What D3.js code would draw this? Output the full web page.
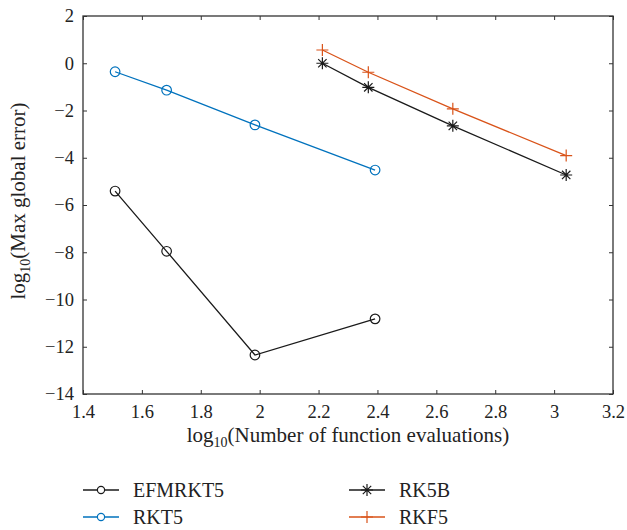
<!DOCTYPE html>
<html><head><meta charset="utf-8">
<script src="https://cdn.jsdelivr.net/npm/d3@7"></script>
<style>body{margin:0;background:#fff}</style>
</head><body><svg id="c" width="627" height="530"></svg>
<script>
const efmX=[1.509,1.684,1.984,2.392], efmY=[-5.41,-7.96,-12.35,-10.82];
const rkt5X=[1.509,1.684,1.984,2.392], rkt5Y=[-0.36,-1.14,-2.61,-4.52];
const rk5bX=[2.213,2.369,2.656,3.041], rk5bY=[0.0,-1.02,-2.65,-4.73];
const rkf5X=[2.213,2.369,2.656,3.041], rkf5Y=[0.56,-0.38,-1.93,-3.91];
const xTicks=[1.4,1.6,1.8,2,2.2,2.4,2.6,2.8,3,3.2];
const yTicks=[2,0,-2,-4,-6,-8,-10,-12,-14];
const seriesNames=["EFMRKT5","RKT5","RK5B","RKF5"];

const FONT="Liberation Serif";
const series=[
 {name:seriesNames[0],xs:efmX,ys:efmY,color:"#1a1a1a",marker:"circle"},
 {name:seriesNames[1],xs:rkt5X,ys:rkt5Y,color:"#0072BD",marker:"circle"},
 {name:seriesNames[2],xs:rk5bX,ys:rk5bY,color:"#1a1a1a",marker:"star"},
 {name:seriesNames[3],xs:rkf5X,ys:rkf5Y,color:"#D95319",marker:"plus"}
];
const L=83,R=613,T=16,B=394;
const svg=d3.select("#c");
const x=d3.scaleLinear().domain([1.4,3.2]).range([L,R]);
const y=d3.scaleLinear().domain([-14,2]).range([B,T]);
const fmt=d=>d<0?"\u2212"+Math.abs(d):String(d);

const tl=4;
function styleAxis(g){g.attr("font-family",FONT).attr("font-size",18.5);g.select(".domain").remove();g.selectAll("text").attr("fill","#222");}
svg.append("g").attr("transform",`translate(0,${B})`).call(d3.axisBottom(x).tickValues(xTicks).tickSize(-tl).tickPadding(11).tickFormat(fmt)).call(styleAxis);
svg.append("g").attr("transform",`translate(0,${T})`).call(d3.axisTop(x).tickValues(xTicks).tickSize(-tl).tickFormat("")).call(styleAxis);
svg.append("g").attr("transform",`translate(${L},0)`).call(d3.axisLeft(y).tickValues(yTicks).tickSize(-tl).tickPadding(9).tickFormat(fmt)).call(styleAxis);
svg.append("g").attr("transform",`translate(${R},0)`).call(d3.axisRight(y).tickValues(yTicks).tickSize(-tl).tickFormat("")).call(styleAxis);
svg.selectAll(".tick line").attr("stroke","#333");
svg.append("rect").attr("x",L).attr("y",T).attr("width",R-L).attr("height",B-T).attr("fill","none").attr("stroke","#333").attr("stroke-width",1.3);

function drawMarker(g,m,cx,cy,color){
 if(m==="circle") g.append("circle").attr("cx",cx).attr("cy",cy).attr("r",4.8).attr("fill","none").attr("stroke",color).attr("stroke-width",1.2);
 else if(m==="plus"){const s=6;g.append("path").attr("d",`M${cx-s},${cy}H${cx+s}M${cx},${cy-s}V${cy+s}`).attr("stroke",color).attr("stroke-width",1.2);}
 else {const s=6,d=s*0.7;g.append("path").attr("d",`M${cx-s},${cy}H${cx+s}M${cx},${cy-s}V${cy+s}M${cx-d},${cy-d}L${cx+d},${cy+d}M${cx-d},${cy+d}L${cx+d},${cy-d}`).attr("stroke",color).attr("stroke-width",1.2);}
}
const line=d3.line().x(d=>x(d[0])).y(d=>y(d[1]));
series.forEach(s=>{
 const pts=s.xs.map((v,i)=>[v,s.ys[i]]);
 const g=svg.append("g");
 g.append("path").attr("d",line(pts)).attr("fill","none").attr("stroke",s.color).attr("stroke-width",1.3);
 pts.forEach(p=>drawMarker(g,s.marker,x(p[0]),y(p[1]),s.color));
});

// axis titles
const xt=svg.append("text").attr("x",348).attr("y",442).attr("text-anchor","middle").attr("font-size",21).attr("font-family",FONT).attr("fill","#222");
xt.append("tspan").text("log");
xt.append("tspan").attr("font-size",14).attr("dy",5).text("10");
xt.append("tspan").attr("dy",-5).text("(Number of function evaluations)");
const yt=svg.append("text").attr("transform",`translate(25,201) rotate(-90)`).attr("text-anchor","middle").attr("font-size",21).attr("font-family",FONT).attr("fill","#222");
yt.append("tspan").text("log");
yt.append("tspan").attr("font-size",14).attr("dy",5).text("10");
yt.append("tspan").attr("dy",-5).text("(Max global error)");

// legend
const legPos=[[83,490],[83,517],[349,490],[349,517]];
series.forEach((s,i)=>{
 const [lx,ly]=legPos[i];
 const g=svg.append("g");
 g.append("line").attr("x1",lx).attr("x2",lx+36).attr("y1",ly).attr("y2",ly).attr("stroke",s.color).attr("stroke-width",1.3);
 if(s.marker==="circle") g.append("circle").attr("cx",lx+18).attr("cy",ly).attr("r",3.6).attr("fill","#fff").attr("stroke",s.color).attr("stroke-width",1.2);
 else drawMarker(g,s.marker,lx+18,ly,s.color);
 g.append("text").attr("x",lx+50).attr("y",ly+7).attr("font-size",20).attr("font-family",FONT).attr("fill","#222").text(s.name);
});
</script></body></html>
